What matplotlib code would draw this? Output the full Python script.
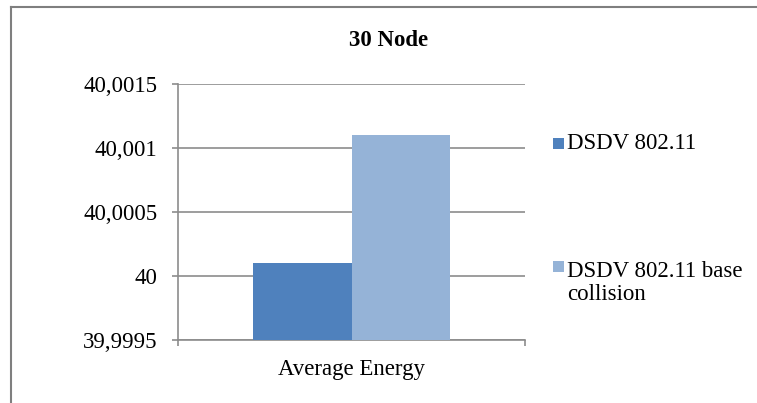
import matplotlib
matplotlib.use("Agg")
import matplotlib.pyplot as plt
from matplotlib.patches import Rectangle
from matplotlib.lines import Line2D
from matplotlib.ticker import FuncFormatter

# data
categories = ["Average Energy"]
series_names = ["DSDV 802.11", "DSDV 802.11 base\ncollision"]
dsdv = [40.0001]
dsdv_collision = [40.0011]
y_ticks = [39.9995, 40.0, 40.0005, 40.001, 40.0015]

colors = ["#4F81BD", "#95B3D7"]
grid_col = "#8C8C8C"
W, H = 757, 403

plt.rcParams["font.family"] = ["Liberation Serif", "DejaVu Serif"]
fs = 16.5

fig = plt.figure(figsize=(W / 100, H / 100), dpi=100)


def px(x, y):
    return x / W, 1 - y / H


l, t = px(178, 84)
r, b = px(525, 340)
ax = fig.add_axes([l, b, r - l, t - b])

width = 0.285
xs = list(range(len(categories)))
bars1 = ax.bar([x - width / 2 for x in xs], dsdv, width, color=colors[0], zorder=3)
bars2 = ax.bar([x + width / 2 for x in xs], dsdv_collision, width, color=colors[1], zorder=3)

ax.set_xlim(-0.5, 0.5)
ax.set_ylim(y_ticks[0], y_ticks[-1])
ax.set_yticks(y_ticks)
ax.yaxis.set_major_formatter(FuncFormatter(
    lambda v, p: f"{v:.4f}".rstrip("0").rstrip(".").replace(".", ",")))
ax.yaxis.grid(True, color=grid_col, linewidth=1.2, zorder=0)
ax.tick_params(axis="y", length=4.3, width=1.2, color=grid_col, pad=10.5, labelsize=fs)

ax.set_xticks(xs)
ax.set_xticklabels(categories)
ax.set_xticks([-0.5, 0.5], minor=True)
ax.tick_params(axis="x", which="major", length=0, pad=14, labelsize=fs)
ax.tick_params(axis="x", which="minor", length=4.3, width=1.2, color=grid_col)

for s in ["top", "right"]:
    ax.spines[s].set_visible(False)
for s in ["left", "bottom"]:
    ax.spines[s].set_color(grid_col)
    ax.spines[s].set_linewidth(1.2)

fig.text(*px(389, 40), "30 Node", ha="center", va="center", fontsize=fs, fontweight="bold")

# legend drawn by hand so the marker sits at the first text line
marker_y = [149, 272]   # bottom of each square, px
text_y = [149, 300]     # baseline of last text line, px
for bars, name, my, ty in zip([bars1, bars2], series_names, marker_y, text_y):
    x0, y0 = px(553, my)
    fig.add_artist(Rectangle((x0, y0), 11 / W, 11 / H, transform=fig.transFigure,
                             color=bars.patches[0].get_facecolor(), lw=0))
    fig.text(*px(567, ty), name, ha="left", va="baseline", fontsize=fs,
             linespacing=1.12)

# outer chart frame (top and left edges are visible)
fig.add_artist(Line2D([px(11, 0)[0], 1], [px(0, 7)[1]] * 2, color="#7F7F7F",
                      lw=1.5, transform=fig.transFigure))
fig.add_artist(Line2D([px(11, 0)[0]] * 2, [0, px(0, 7)[1]], color="#7F7F7F",
                      lw=1.5, transform=fig.transFigure))

fig.savefig("out.png", dpi=100)
